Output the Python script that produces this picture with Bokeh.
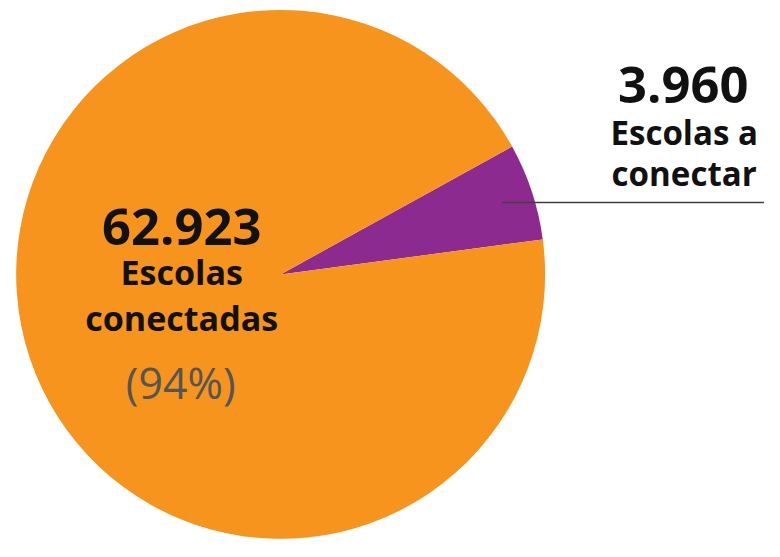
from bokeh.plotting import figure
from bokeh.models import Range1d, ColumnDataSource
from bokeh.core.properties import value
from bokeh.embed import file_html
from bokeh.resources import INLINE
import math

# ---- data ----
categories = ["Escolas conectadas", "Escolas a conectar"]
counts = [62923, 3960]
colors = ["#F7941D", "#8D2A8F"]
start_offset_deg = 7.6  # where the purple slice starts (counter-clockwise from 3 o'clock)

W, H = 764, 541
REF_W, REF_H = 780, 557
p = figure(width=W, height=H, output_backend="svg", toolbar_location=None,
           x_range=Range1d(0, REF_W), y_range=Range1d(0, REF_H),
           min_border=0)
p.axis.visible = False
p.grid.visible = False
p.outline_line_color = None
p.background_fill_color = "white"
p.border_fill_color = "white"

def Y(y_ref):
    return REF_H - y_ref

total = sum(counts)
order = [1, 0]  # purple first, then the orange remainder
ang = math.radians(start_offset_deg)
starts, ends, cols = [], [], []
for i in order:
    span = 2 * math.pi * counts[i] / total
    starts.append(ang)
    ends.append(ang + span)
    cols.append(colors[i])
    ang += span

src = ColumnDataSource(dict(start=starts, end=ends, color=cols))
p.wedge(x=286, y=Y(282), radius=270, start_angle="start", end_angle="end",
        fill_color="color", line_color=None, source=src, direction="anticlock")

# leader line from the purple slice
p.segment(x0=[512], y0=[Y(208)], x1=[REF_W], y1=[Y(208)],
          line_color="#404040", line_width=1.5)

def fmt(n):
    return f"{n:,}".replace(",", ".")

pct = round(100 * counts[0] / total)
font = value("Open Sans")
k = 0.975

def px(s):
    return f"{s * k:.1f}px"

# right label (purple slice)
p.text(x=[697], y=[Y(87)], text=[fmt(counts[1])], text_font=font,
       text_font_size=px(52), text_font_style="bold", text_color="#111111",
       text_align="center", text_baseline="alphabetic")
p.text(x=[698, 698], y=[Y(136), Y(178)], text=["Escolas a", "conectar"],
       text_font=font, text_font_size=px(34), text_font_style="bold",
       text_color="#111111", text_align="center", text_baseline="alphabetic")

# left label (orange slice)
p.text(x=[185], y=[Y(233)], text=[fmt(counts[0])], text_font=font,
       text_font_size=px(52), text_font_style="bold", text_color="#111111",
       text_align="center", text_baseline="alphabetic")
p.text(x=[185, 185], y=[Y(280), Y(327)], text=["Escolas", "conectadas"],
       text_font=font, text_font_size=px(35), text_font_style="bold",
       text_color="#111111", text_align="center", text_baseline="alphabetic")
p.text(x=[184], y=[Y(393)], text=[f"({pct}%)"], text_font=font,
       text_font_size=px(44), text_color="#555555",
       text_align="center", text_baseline="alphabetic")

open("out.html", "w").write(file_html(p, INLINE))
